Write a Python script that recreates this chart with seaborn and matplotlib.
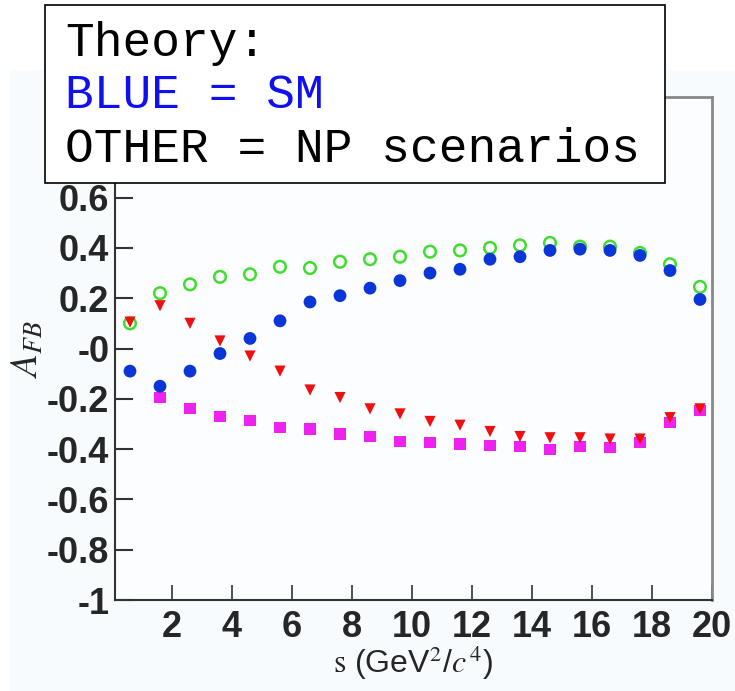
import matplotlib
matplotlib.use("Agg")
import matplotlib.pyplot as plt
import seaborn as sns
import pandas as pd
from matplotlib.patches import Rectangle

# ---- data ----
s_values = [0.6, 1.6, 2.6, 3.6, 4.6, 5.6, 6.6, 7.6, 8.6, 9.6,
            10.6, 11.6, 12.6, 13.6, 14.6, 15.6, 16.6, 17.6, 18.6, 19.6]
afb_sm = [-0.09, -0.15, -0.09, -0.02, 0.04, 0.11, 0.185, 0.21, 0.24, 0.27,
          0.30, 0.315, 0.355, 0.365, 0.39, 0.395, 0.39, 0.37, 0.31, 0.195]
afb_np_green = [0.10, 0.22, 0.255, 0.285, 0.295, 0.325, 0.32, 0.345, 0.355, 0.365,
                0.385, 0.39, 0.40, 0.41, 0.42, 0.405, 0.405, 0.38, 0.335, 0.245]
afb_np_red = [0.105, 0.17, 0.10, 0.03, -0.03, -0.09, -0.165, -0.195, -0.24, -0.26,
              -0.29, -0.305, -0.33, -0.35, -0.355, -0.355, -0.36, -0.36, -0.275, -0.24]
s_magenta = s_values[1:]
afb_np_magenta = [-0.195, -0.24, -0.27, -0.285, -0.315, -0.32, -0.34, -0.35, -0.37,
                  -0.375, -0.38, -0.385, -0.39, -0.40, -0.39, -0.395, -0.375, -0.295, -0.245]
x_ticks = [2, 4, 6, 8, 10, 12, 14, 16, 18, 20]
y_ticks = [-1, -0.8, -0.6, -0.4, -0.2, 0, 0.2, 0.4, 0.6]
y_tick_labels = ["-1", "-0.8", "-0.6", "-0.4", "-0.2", "-0", "0.2", "0.4", "0.6"]

sns.set_style("white")
plt.rcParams["font.family"] = ["Liberation Sans Narrow", "Liberation Sans", "DejaVu Sans"]
plt.rcParams["mathtext.fontset"] = "stix"

fig = plt.figure(figsize=(7.35, 6.91), dpi=100, facecolor="white")
fig.patches.append(Rectangle((10 / 735, 0), 1 - 10 / 735, 1 - 70 / 691,
                             transform=fig.transFigure, facecolor="#f8fbfd",
                             edgecolor="none", zorder=-10))
ax = fig.add_axes([115 / 735, 1 - 600 / 691, (712 - 115) / 735, (600 - 97) / 691])
ax.set_facecolor("#fcfdff")

df_sm = pd.DataFrame({"s": s_values, "afb": afb_sm})
df_g = pd.DataFrame({"s": s_values, "afb": afb_np_green})
df_r = pd.DataFrame({"s": s_values, "afb": afb_np_red})
df_m = pd.DataFrame({"s": s_magenta, "afb": afb_np_magenta})

sns.scatterplot(data=df_m, x="s", y="afb", ax=ax, marker="s", s=65,
                color="#ee22ee", edgecolor="none", zorder=2)
sns.scatterplot(data=df_g, x="s", y="afb", ax=ax, marker="o", s=70,
                facecolors="none", edgecolor="#40dd30", linewidth=1.8, zorder=3)
sns.scatterplot(data=df_sm, x="s", y="afb", ax=ax, marker="o", s=85,
                color="#0a36d8", edgecolor="none", zorder=4)
sns.scatterplot(data=df_r, x="s", y="afb", ax=ax, marker="v", s=65,
                color="#ee1010", edgecolor="none", zorder=5)

ax.set_xlim(0.1, 20)
ax.set_ylim(-1, 1.0)
ax.set_xticks(x_ticks)
ax.set_xticklabels([str(t) for t in x_ticks])
ax.set_yticks(y_ticks)
ax.set_yticklabels(y_tick_labels)
for lab in ax.get_xticklabels() + ax.get_yticklabels():
    lab.set_fontweight("bold")
    lab.set_fontsize(26)
ax.tick_params(axis="y", direction="in", length=13, width=1.5, color="#333333", pad=4,
               left=True, right=False)
ax.tick_params(axis="x", direction="in", length=11, width=1.2, color="#333333", pad=7,
               bottom=True, top=False)

for side in ["left", "bottom"]:
    ax.spines[side].set_color("#333333")
    ax.spines[side].set_linewidth(1.5)
for side in ["top", "right"]:
    ax.spines[side].set_color("#888888")
    ax.spines[side].set_linewidth(2)
    ax.spines[side].set_visible(True)

ax.set_xlabel(r"$\mathrm{s}$ (GeV$^{2}$/$c^{\,4}$)", fontsize=23, labelpad=0)
ax.set_ylabel(r"$A_{FB}$", fontsize=27, rotation=90)
ax.yaxis.set_label_coords(-0.115, 0.5)

# ---- Theory box ----
fig.patches.append(Rectangle((45 / 735, 1 - 183 / 691), (665 - 45) / 735, (183 - 5) / 691,
                             transform=fig.transFigure, facecolor="white",
                             edgecolor="black", linewidth=1.2, zorder=5))
mono = ["Liberation Mono", "DejaVu Sans Mono"]
fig.text(65 / 735, 1 - 43 / 691, "Theory:", family=mono, fontsize=34.5, color="black",
         va="center", ha="left", zorder=6)
fig.text(65 / 735, 1 - 96 / 691, "BLUE = SM", family=mono, fontsize=34.5, color="#1010ee",
         va="center", ha="left", zorder=6)
fig.text(65 / 735, 1 - 149 / 691, "OTHER = NP scenarios", family=mono, fontsize=34.5,
         color="black", va="center", ha="left", zorder=6)

fig.savefig("out.png", dpi=100, facecolor=fig.get_facecolor())
